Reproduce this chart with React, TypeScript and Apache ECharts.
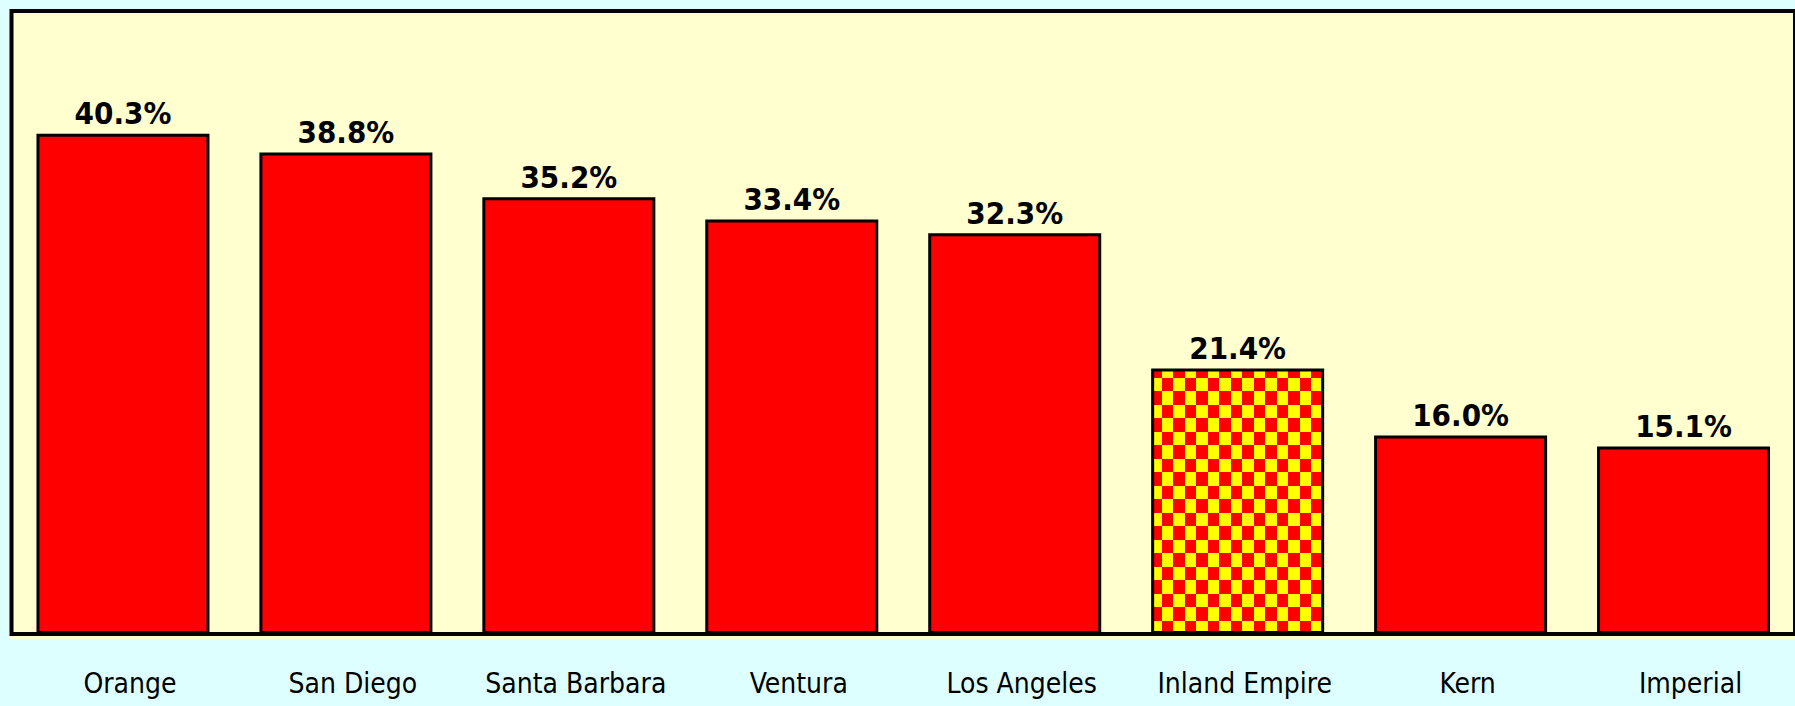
import { useEffect, useRef } from "react";
import * as echarts from "echarts";

const categories = [
  "Orange",
  "San Diego",
  "Santa Barbara",
  "Ventura",
  "Los Angeles",
  "Inland Empire",
  "Kern",
  "Imperial",
];
const values = [40.3, 38.8, 35.2, 33.4, 32.3, 21.4, 16.0, 15.1];
const highlighted = ["Inland Empire"];

const FONT = "'DejaVu Sans Condensed', 'DejaVu Sans', sans-serif";

function checkerTile(): HTMLCanvasElement {
  const c = document.createElement("canvas");
  c.width = 23;
  c.height = 27;
  const ctx = c.getContext("2d")!;
  ctx.fillStyle = "#FF0000";
  ctx.fillRect(0, 0, 23, 27);
  ctx.fillStyle = "#FFFF00";
  ctx.fillRect(0, 0, 12, 13);
  ctx.fillRect(12, 13, 11, 14);
  return c;
}

export default function App() {
  const ref = useRef<HTMLDivElement>(null);

  useEffect(() => {
    document.body.style.margin = "0";
    const chart = echarts.init(ref.current!, undefined, { renderer: "svg" });
    const tile = checkerTile();
    const pattern: any = {
      image: tile.toDataURL("image/png"),
      repeat: "repeat",
      imageWidth: 23,
      imageHeight: 27,
    };

    const data = values.map((v, i) => ({
      value: v,
      itemStyle: highlighted.includes(categories[i]) ? { color: pattern } : undefined,
    }));

    chart.setOption({
      animation: false,
      backgroundColor: "#DDFFFF",
      grid: {
        left: 11.5,
        top: 11,
        right: -11,
        bottom: 72,
        show: true,
        backgroundColor: "#FFFFD0",
        borderColor: "#000000",
        borderWidth: 4,
      },
      graphic: [
        {
          type: "rect",
          silent: true,
          shape: { x: 10, y: 636, width: 1790, height: 3 },
          style: { fill: "#FFFFD0" },
        },
      ],
      xAxis: {
        type: "category",
        data: categories,
        axisLine: { show: false },
        axisTick: { show: false },
        splitLine: { show: false },
        axisLabel: {
          interval: 0,
          color: "#000000",
          fontFamily: FONT,
          fontSize: 28,
          margin: 35,
          padding: [0, 0, 0, 14],
        },
      },
      yAxis: {
        type: "value",
        min: 0,
        max: 50.2,
        axisLine: { show: false },
        axisTick: { show: false },
        axisLabel: { show: false },
        splitLine: { show: false },
      },
      series: [
        {
          type: "bar",
          data,
          barWidth: 173,
          itemStyle: {
            color: "#FF0000",
            borderColor: "#000000",
            borderWidth: 3,
          },
          label: {
            show: true,
            position: "top",
            distance: 5,
            color: "#000000",
            fontFamily: FONT,
            fontWeight: "bold",
            fontSize: 31,
            formatter: (p: any) => Number(p.value).toFixed(1) + "%",
          },
        },
      ],
    });

    return () => chart.dispose();
  }, []);

  return <div ref={ref} style={{ width: 1795, height: 706 }} />;
}
